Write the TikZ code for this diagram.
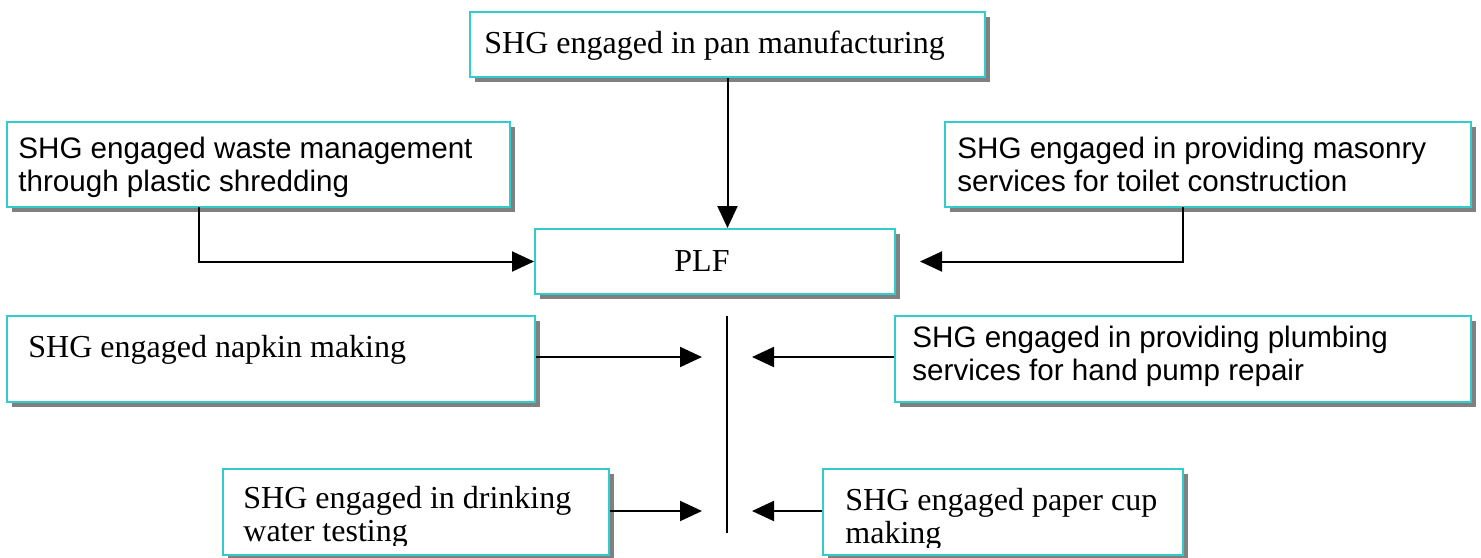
\documentclass[tikz,border=0pt]{standalone}
\usepackage{fontspec}
\setmainfont{Liberation Serif}
\newfontfamily\arialfont{Liberation Sans}
\usetikzlibrary{arrows.meta,fit,shadows}
\definecolor{boxline}{RGB}{51,204,204}
\definecolor{boxshade}{RGB}{128,128,128}
\tikzset{
  shgbox/.style={draw=boxline, line width=1pt, fill=white, inner sep=0pt,
    drop shadow={shadow xshift=2.5pt, shadow yshift=-2.5pt, fill=boxshade, opacity=1}},
  tms/.style={font=\fontsize{16}{16.5}\selectfont, inner sep=0pt, anchor=base west, align=left},
  ari/.style={font=\arialfont\fontsize{14.8}{16.5}\selectfont, inner sep=0pt, anchor=base west, align=left},
  link/.style={line width=1pt},
  arr/.style={link, -{Triangle[length=11pt,width=10pt]}},
}
\begin{document}
\begin{tikzpicture}[x=0.5pt,y=-0.5pt]
\useasboundingbox (0,0) rectangle (1481,557);
% boxes
\node[shgbox, fit={(470,12) (985,77)}] (pan) {};
\node[shgbox, fit={(7,122) (510,207)}] (waste) {};
\node[shgbox, fit={(945,122) (1471,207)}] (mason) {};
\node[shgbox, fit={(535,229) (895,294)}] (plf) {};
\node[shgbox, fit={(7,316) (535,402)}] (napkin) {};
\node[shgbox, fit={(895,316) (1471,402)}] (plumb) {};
\node[shgbox, fit={(223,469) (609,555)}] (water) {};
\node[shgbox, fit={(823,469) (1183,555)}] (cup) {};
% texts (base = last line)
\node[tms] (pantxt) at (484,53) {SHG engaged in pan manufacturing};
\node[ari] (wastetxt) at (18,191) {SHG engaged waste management\\through plastic shredding};
\node[ari] (masontxt) at (957,191) {SHG engaged in providing masonry\\services for toilet construction};
\node[tms, anchor=base] (plftxt) at (702,271) {PLF};
\node[tms] (napkintxt) at (28,357) {SHG engaged napkin making};
\node[ari] (plumbtxt) at (912,380) {SHG engaged in providing plumbing\\services for hand pump repair};
\begin{scope}
\clip (224,470) rectangle (608,545);
\node[tms] (watertxt) at (243,541) {SHG engaged in drinking\\water testing};
\end{scope}
\begin{scope}
\clip (824,470) rectangle (1182,547);
\node[tms] (cuptxt) at (845,543) {SHG engaged paper cup\\making};
\end{scope}
% connectors
\coordinate (wastefoot) at (199,207);
\coordinate (masonfoot) at (1183,207);
\coordinate (masontip) at (920,261.5);
\draw[arr] (pan.south) -- (pan.south |- plf.north);
\draw[arr] (wastefoot) |- (plf.west);
\draw[arr] (masonfoot) |- (masontip);
\coordinate (stemtop) at (727,316);
\coordinate (stembot) at (727,533);
\draw[link] (stemtop) -- (stembot);
\coordinate (napkintip) at (702,357);
\coordinate (plumbtip) at (752,357);
\draw[arr] (napkin.east |- napkintip) -- (napkintip);
\draw[arr] (plumb.west |- plumbtip) -- (plumbtip);
\coordinate (watertip) at (702,511);
\coordinate (cuptip) at (752,511);
\draw[arr] (water.east |- watertip) -- (watertip);
\draw[arr] (cup.west |- cuptip) -- (cuptip);
\end{tikzpicture}
\end{document}
